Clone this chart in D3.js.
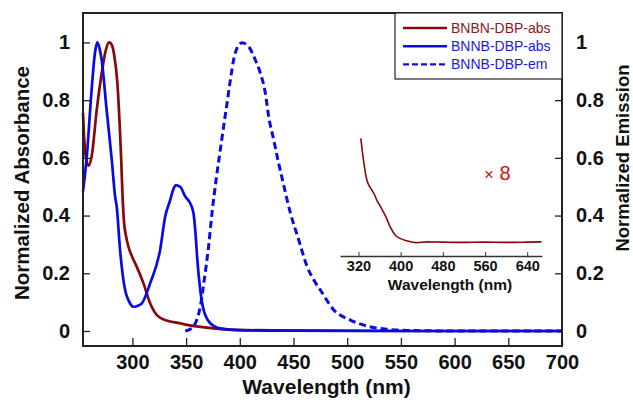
<!DOCTYPE html>
<html>
<head>
<meta charset="utf-8">
<script src="https://cdn.jsdelivr.net/npm/d3@7"></script>
<style>
  body { margin: 0; background: #fff; }
  text { font-family: "Liberation Sans", Arial, sans-serif; }
</style>
</head>
<body>
<div id="chart"></div>
<script>
// data
var bnbnAbsNm = [254, 256, 259, 262, 266.8, 271.4, 275, 278.3, 281, 283, 286, 288.5, 289.5, 290.8, 292.3, 294, 296.3, 300, 304, 310.3, 316.5, 322.8, 332, 344.5, 347.6, 360, 375.6, 394, 406.7, 450, 550, 700];
var bnbnAbs   = [0.756, 0.62, 0.573, 0.604, 0.766, 0.893, 0.97, 1.0, 0.99, 0.957, 0.86, 0.686, 0.6, 0.47, 0.373, 0.33, 0.292, 0.255, 0.223, 0.165, 0.096, 0.055, 0.036, 0.027, 0.024, 0.016, 0.009, 0.004, 0.003, 0.001, 0, 0];

var bnnbAbsNm = [254, 257.5, 262, 265, 267.3, 269, 271.4, 276, 280.8, 283.9, 285.4, 288.5, 293.2, 296.3, 301, 304, 308.8, 316.5, 325.8, 330.5, 335.2, 338.5, 340.5, 342.5, 344.5, 349.2, 353.8, 356.9, 358.5, 360.7, 363.2, 366.3, 372.5, 381.8, 400, 450, 550, 700];
var bnnbAbs   = [0.483, 0.604, 0.835, 0.96, 1.0, 0.985, 0.939, 0.766, 0.593, 0.466, 0.431, 0.281, 0.142, 0.107, 0.084, 0.086, 0.096, 0.165, 0.281, 0.396, 0.454, 0.495, 0.506, 0.503, 0.5, 0.466, 0.443, 0.408, 0.35, 0.235, 0.142, 0.073, 0.027, 0.009, 0.003, 0.001, 0, 0];

var bnnbEmNm = [349.2, 353, 356.9, 360, 363.2, 366.9, 370.9, 374.1, 378.1, 381.8, 384.9, 388.1, 391.2, 394.2, 398, 402.1, 408.3, 414.5, 419.2, 423.8, 426.9, 431.6, 436.2, 439.4, 447.2, 454.9, 462.7, 470, 475, 487.5, 503, 518.7, 537.4, 556, 600, 700];
var bnnbEm   = [0, 0.005, 0.015, 0.04, 0.084, 0.177, 0.292, 0.408, 0.529, 0.627, 0.708, 0.789, 0.87, 0.939, 0.985, 0.999, 0.985, 0.939, 0.893, 0.824, 0.743, 0.662, 0.581, 0.529, 0.408, 0.315, 0.223, 0.17, 0.142, 0.073, 0.038, 0.017, 0.006, 0.002, 0, 0];

// inset: BNBN-DBP-abs tail, x 8
var insetNm = [324.5, 329.5, 335.9, 340, 345.3, 350, 354.8, 362, 370.5, 380, 389.4, 398.8, 411.5, 430, 450, 480, 520, 560, 600, 640, 666.7];
var insetV  = [0.934, 0.762, 0.603, 0.56, 0.524, 0.49, 0.444, 0.39, 0.325, 0.233, 0.167, 0.14, 0.121, 0.106, 0.112, 0.11, 0.108, 0.11, 0.108, 0.11, 0.112];

var xTicks = [300, 350, 400, 450, 500, 550, 600, 650, 700];
var yTicks = [0, 0.2, 0.4, 0.6, 0.8, 1];
var insetTicks = [320, 400, 480, 560, 640];

var seriesNames = ["BNBN-DBP-abs", "BNNB-DBP-abs", "BNNB-DBP-em"];
var maroon = "#870808", blue = "#0a0ae6";

var W = 633, H = 400;
var margin = {top: 13, right: 71, bottom: 54, left: 83},
    width = W - margin.left - margin.right,
    height = H - margin.top - margin.bottom;

var svg = d3.select("#chart").append("svg")
    .attr("width", W).attr("height", H);

var g = svg.append("g")
    .attr("transform", "translate(" + margin.left + "," + margin.top + ")");

var x = d3.scaleLinear().domain([254, 700]).range([0, width]);
var y = d3.scaleLinear().domain([-0.052, 1.102]).range([height, 0]);

function fmt(d) { return d == 0 || d == 1 ? d3.format("d")(d) : d3.format(".1f")(d); }

// axes with inward ticks
var bottom = g.append("g")
    .attr("transform", "translate(0," + height + ")")
    .call(d3.axisBottom(x).tickValues(xTicks).tickSize(-8).tickPadding(9).tickSizeOuter(0));
var left = g.append("g")
    .call(d3.axisLeft(y).tickValues(yTicks).tickFormat(fmt).tickSize(-7).tickPadding(13).tickSizeOuter(0));
var right = g.append("g")
    .attr("transform", "translate(" + width + ",0)")
    .call(d3.axisRight(y).tickValues(yTicks).tickFormat(fmt).tickSize(-7).tickPadding(14).tickSizeOuter(0));

[bottom, left, right].forEach(function(a) {
    a.select(".domain").remove();
    a.selectAll(".tick line").attr("stroke", "#222").attr("stroke-width", 1.3);
    a.selectAll("text").attr("fill", "#111").style("font-size", "20px").style("font-weight", "bold");
});

// lines
function line(xs, ys, sx, sy) {
    var pts = xs.map(function(v, i) { return [sx(v), sy(ys[i])]; });
    return d3.line().curve(d3.curveMonotoneX)(pts);
}

g.append("path").attr("d", line(bnbnAbsNm, bnbnAbs, x, y))
    .attr("fill", "none").attr("stroke", maroon).attr("stroke-width", 2.7);
g.append("path").attr("d", line(bnnbEmNm, bnnbEm, x, y))
    .attr("fill", "none").attr("stroke", blue).attr("stroke-width", 3).attr("stroke-dasharray", "7,4");
g.append("path").attr("d", line(bnnbAbsNm, bnnbAbs, x, y))
    .attr("fill", "none").attr("stroke", blue).attr("stroke-width", 2.7);

// frame
g.append("rect").attr("width", width).attr("height", height)
    .attr("fill", "none").attr("stroke", "#222").attr("stroke-width", 2);

// axis titles
svg.append("text").attr("x", margin.left + width / 2 + 4).attr("y", 394)
    .attr("text-anchor", "middle").style("font-size", "21px").style("font-weight", "bold")
    .attr("fill", "#111").text("Wavelength (nm)");
svg.append("text").attr("transform", "translate(29,183) rotate(-90)")
    .attr("text-anchor", "middle").style("font-size", "20.5px").style("font-weight", "bold")
    .attr("fill", "#111").text("Normalized Absorbance");
svg.append("text").attr("transform", "translate(629,158) rotate(-90)")
    .attr("text-anchor", "middle").style("font-size", "18.5px").style("font-weight", "bold")
    .attr("fill", "#111").text("Normalized Emission");

// legend
var lg = svg.append("g").attr("transform", "translate(395,13)");
lg.append("rect").attr("width", 167).attr("height", 66)
    .attr("fill", "#fff").attr("stroke", "#222").attr("stroke-width", 1.2);
var legColors = [maroon, blue, blue];
seriesNames.forEach(function(name, i) {
    var yy = 15 + i * 18.2;
    lg.append("line").attr("x1", 8).attr("x2", 52).attr("y1", yy).attr("y2", yy)
        .attr("stroke", legColors[i]).attr("stroke-width", 2.4)
        .attr("stroke-dasharray", i == 2 ? "6,3" : null);
    lg.append("text").attr("x", 56).attr("y", yy).attr("dy", "0.36em")
        .style("font-size", "14px").attr("fill", i == 0 ? "#8b1a1a" : "#1a1ae6").text(name);
});

// inset
var ix = d3.scaleLinear().domain([285, 668]).range([340, 542]);
var iy = d3.scaleLinear().domain([0, 1]).range([256, 130]);
var inset = svg.append("g");
var iax = inset.append("g").attr("transform", "translate(0,256)")
    .call(d3.axisBottom(ix).tickValues(insetTicks).tickSize(-4).tickPadding(5).tickSizeOuter(0));
iax.select(".domain").attr("stroke", "#333").attr("stroke-width", 1.3);
iax.selectAll(".tick line").attr("stroke", "#333");
iax.selectAll("text").attr("fill", "#111").style("font-size", "14.5px").style("font-weight", "bold");
inset.append("text").attr("x", 450).attr("y", 290).attr("text-anchor", "middle")
    .style("font-size", "15.5px").style("font-weight", "bold").attr("fill", "#111").text("Wavelength (nm)");
inset.append("path").attr("d", line(insetNm, insetV, ix, iy))
    .attr("fill", "none").attr("stroke", maroon).attr("stroke-width", 1.6);
inset.append("text").attr("x", 484).attr("y", 180)
    .style("font-size", "20px").attr("fill", "#cc1111")
    .html('<tspan style="font-size:17px">×</tspan> 8');
</script>
</body>
</html>
